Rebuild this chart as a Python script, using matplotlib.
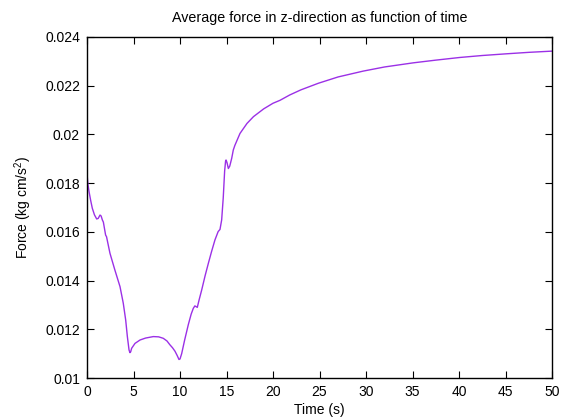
import matplotlib
matplotlib.use("Agg")
import matplotlib.pyplot as plt

time_s = [0.0, 0.03, 0.1, 0.22, 0.4, 0.57, 0.8, 1.04, 1.2, 1.4, 1.52, 1.65, 1.76, 2.0, 2.1,
          2.47, 3.0, 3.55, 3.9, 4.16, 4.34, 4.52, 4.62, 4.7, 4.8, 5.16, 5.7, 6.3,
          7.13, 7.7, 8.2, 8.6, 8.9, 9.2, 9.46, 9.7, 9.89, 10.0, 10.18, 10.5, 10.9, 11.2,
          11.43, 11.6, 11.86, 12.05, 12.33, 12.7, 13.05, 13.4, 13.76, 14.1, 14.3, 14.48,
          14.65, 14.8, 14.9, 14.95, 15.05, 15.2, 15.35, 15.56, 15.73, 15.9, 16.45, 17.2,
          17.9, 19.0, 20.0, 20.75, 21.8, 23.0, 24.87, 27.0, 29.7, 32.0, 35.1, 37.5, 40.1,
          42.5, 45.1, 47.5, 50.0]
force = [0.01900, 0.01826, 0.01795, 0.01765, 0.01728, 0.01697, 0.01670, 0.01653, 0.01655,
         0.01669, 0.01665, 0.01649, 0.01640, 0.01587, 0.0158, 0.01512, 0.01443, 0.01375,
         0.01307, 0.01238, 0.0117, 0.01115, 0.01104, 0.01108, 0.01122, 0.01142, 0.01156,
         0.01164, 0.0117, 0.01169, 0.01163, 0.01152, 0.01137, 0.01124, 0.01110, 0.01092,
         0.01076, 0.01078, 0.01100, 0.01156, 0.01220, 0.01262, 0.01286, 0.01296, 0.0129,
         0.01320, 0.01361, 0.01420, 0.01471, 0.01520, 0.01567, 0.01601, 0.0161, 0.01649,
         0.01740, 0.01850, 0.01890, 0.01895, 0.01885, 0.01860, 0.01870, 0.01902, 0.01936,
         0.01955, 0.02004, 0.02045, 0.02073, 0.02105, 0.02128, 0.02140, 0.02162, 0.02183,
         0.02210, 0.02236, 0.02260, 0.02277, 0.02294, 0.02305, 0.02316, 0.02324, 0.02331,
         0.02337, 0.02342]

x_ticks = [0, 5, 10, 15, 20, 25, 30, 35, 40, 45, 50]
y_ticks = [0.010, 0.012, 0.014, 0.016, 0.018, 0.020, 0.022, 0.024]
y_tick_labels = ["0.01", "0.012", "0.014", "0.016", "0.018", "0.02", "0.022", "0.024"]

plt.rcParams['font.family'] = ['Liberation Sans', 'DejaVu Sans']
plt.rcParams['mathtext.default'] = 'regular'

fig = plt.figure(figsize=(5.63, 4.19), dpi=100)
ax = fig.add_axes([87/563, 41/419, 465/563, 341/419])
ax.plot(time_s, force, color='#9b30e6', linewidth=1.0)
ax.set_xlim(0, 50)
ax.set_ylim(0.010, 0.024)
ax.set_xticks(x_ticks)
ax.set_xticklabels([str(v) for v in x_ticks])
ax.set_yticks(y_ticks)
ax.set_yticklabels(y_tick_labels)
ax.tick_params(direction='in', top=True, right=True, length=5, width=0.8,
               labelsize=10, pad=5)
for s in ax.spines.values():
    s.set_linewidth(1.0)
ax.set_title('Average force in z-direction as function of time', fontsize=10.3, pad=11)
ax.set_xlabel('Time (s)', fontsize=10, labelpad=3)
ax.set_ylabel('Force (kg cm/s$^2$)', fontsize=10, labelpad=8)
fig.savefig('out.png', dpi=100)
